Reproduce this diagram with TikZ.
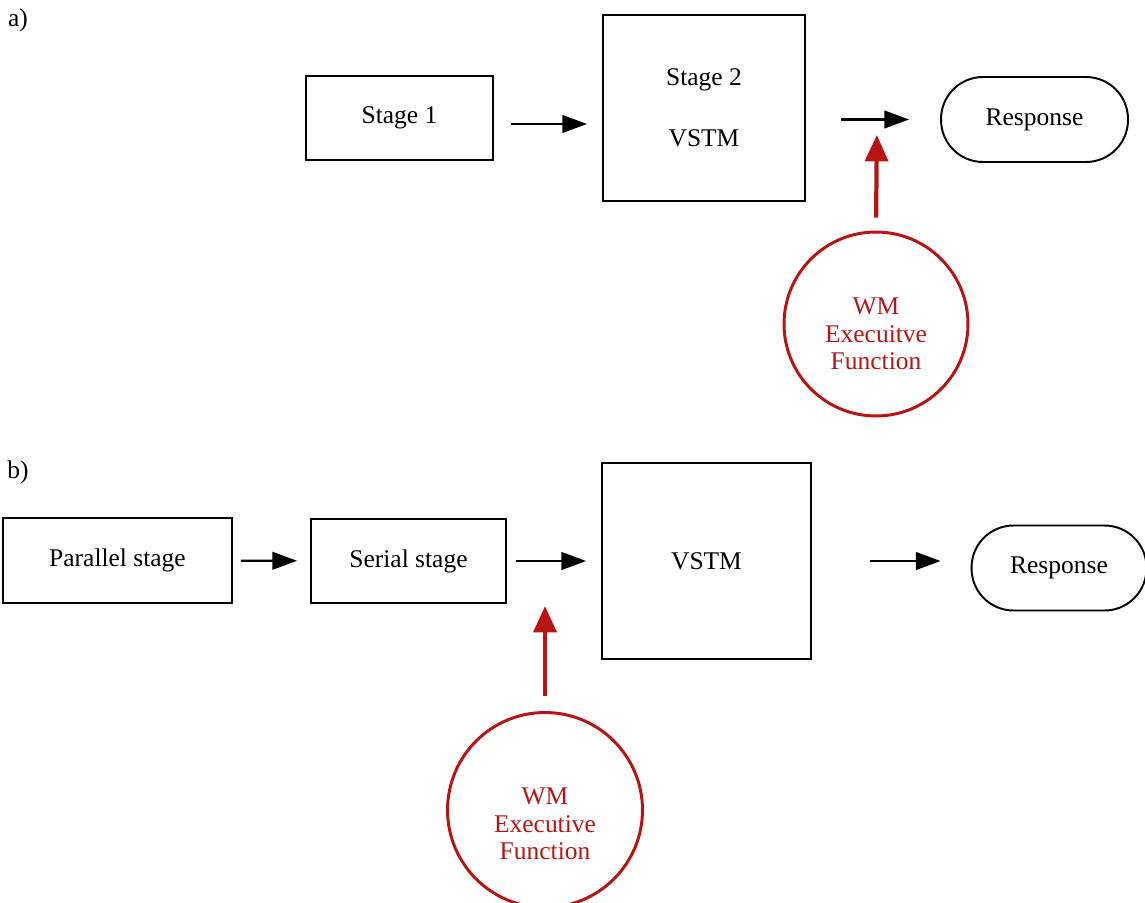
\documentclass[tikz,border=0pt]{standalone}
\usepackage{fontspec}
\setmainfont{Liberation Serif}
\usetikzlibrary{
    arrows.meta,
    positioning,
    calc,
    shapes.geometric
}
\definecolor{wmRed}{RGB}{185,20,20}
\tikzset{
  stagebox/.style = {draw, line width=1.1pt, inner sep=0pt, align=center,
                     font=\fontsize{14.5}{17}\selectfont},
  endbox/.style   = {draw, line width=1.1pt, rounded corners=0.84cm, inner sep=0pt,
                     minimum width=3.74cm, minimum height=1.7cm,
                     font=\fontsize{14.5}{17}\selectfont},
  wmcircle/.style = {draw=wmRed, circle, line width=1.7pt, inner sep=0pt},
  wmtext/.style   = {text=wmRed, align=center, font=\fontsize{14.5}{15.5}\selectfont},
  panel/.style    = {font=\fontsize{14.5}{17}\selectfont},
  arr/.style      = {-{Triangle[length=14pt,width=10pt]}, line width=1.2pt},
  arrw/.style     = {-{Triangle[length=15pt,width=13pt]}, line width=2.4pt, wmRed}
}
\begin{document}
\begin{tikzpicture}[x=0.02cm, y=-0.02cm]
    \useasboundingbox (0,0) rectangle (1145,902);

    % panel a
    \node[panel] (la) at (18,20) {a)};
    \node[stagebox, minimum width=3.74cm, minimum height=1.68cm] (stage1) at (399.5,118) {Stage 1};
    \node[stagebox, minimum width=4.04cm, minimum height=3.72cm] (stage2) at (704,108)
      {Stage 2\\[18pt]VSTM};
    \node[endbox] (respa) at (1034.5,119.5) {Response};
    \node[wmcircle, minimum size=3.68cm] (wma) at (876,324) {};
    \node[wmtext] (wma-text) at ([yshift=-0.2cm]wma.center) {WM\\Execuitve\\Function};
    \coordinate (gatea) at (877,117);

    \draw[arr, shorten <=0.34cm, shorten >=0.3cm] ([yshift=-0.12cm]stage1.east)
      -- ([yshift=-0.12cm]stage1.east -| stage2.west);
    \draw[arr, shorten <=0.7cm, shorten >=0.62cm] (stage2.east |- respa.west) -- (respa.west);
    \draw[arrw, shorten <=0.26cm, shorten >=0.36cm] (wma.north) -- (gatea);

    % panel b
    \node[panel] (lb) at (18,472) {b)};
    \node[stagebox, minimum width=4.58cm, minimum height=1.7cm] (par) at (117.5,560.5) {Parallel stage};
    \node[stagebox, minimum width=3.9cm, minimum height=1.68cm] (ser) at (408.5,561) {Serial stage};
    \node[stagebox, minimum width=4.18cm, minimum height=3.92cm] (vstm) at (706.5,561) {VSTM};
    \node[endbox, minimum width=3.5cm] (respb) at (1059,568) {Response};
    \node[wmcircle, minimum size=3.9cm] (wmb) at (545,810) {};
    \node[wmtext] (wmb-text) at ([yshift=-0.28cm]wmb.center) {WM\\Executive\\Function};
    \coordinate (gateb) at (545,559);

    \draw[arr, shorten <=0.16cm, shorten >=0.26cm] (par) -- (ser);
    \draw[arr, shorten <=0.18cm, shorten >=0.3cm] (ser) -- (vstm);
    \draw[arr, shorten <=1.16cm, shorten >=0.6cm] (vstm.east) -- (vstm.east -| respb.west);
    \draw[arrw, shorten <=0.3cm, shorten >=0.94cm] (wmb.north) -- (gateb);
\end{tikzpicture}
\end{document}
